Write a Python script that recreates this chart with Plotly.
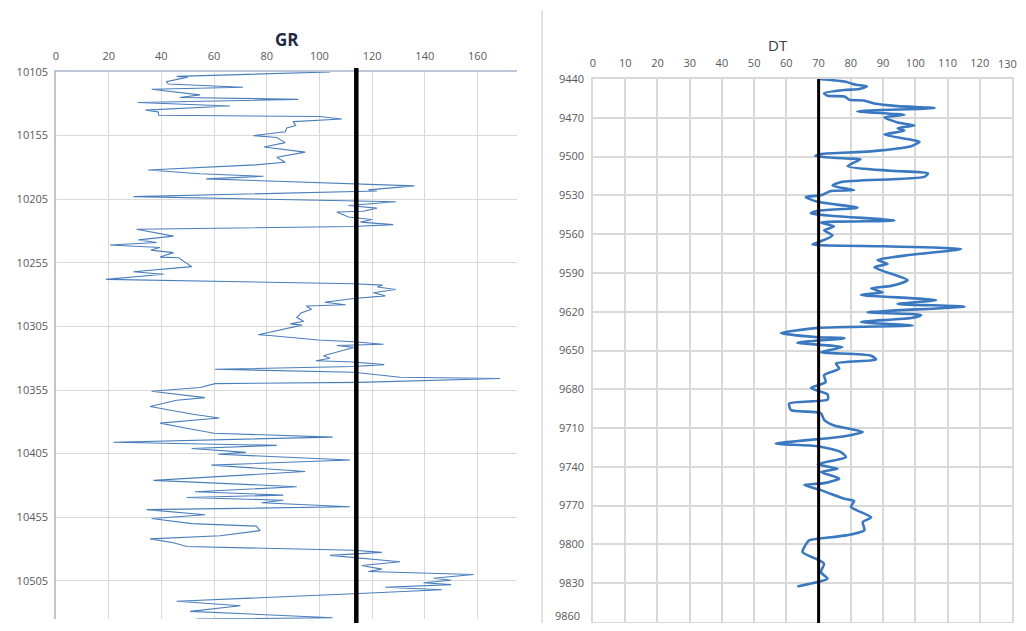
import plotly.graph_objects as go

# ---------------- GR log (left panel) ----------------
gr_depth = [10105, 10108.4, 10109, 10112.6, 10114.5, 10117, 10118.6, 10123, 10125, 10126.5,
            10129, 10131.7, 10135, 10136.5, 10139, 10140, 10142, 10144, 10147, 10149,
            10152, 10155, 10156.5, 10160.5, 10164, 10168, 10172, 10176, 10178, 10182,
            10185, 10187, 10189, 10193, 10194.5, 10197.7, 10198.5, 10203, 10206, 10207,
            10210, 10212, 10214.5, 10215, 10219, 10221, 10223, 10225, 10226.5, 10228.6,
            10234, 10237, 10239, 10241, 10243, 10245, 10247, 10250.5, 10251, 10258,
            10262, 10264, 10268, 10271.5, 10272.5, 10274, 10276, 10278.5, 10281, 10283,
            10286, 10288, 10289, 10291.5, 10294.5, 10298, 10301, 10303, 10304, 10311.5,
            10312, 10315.7, 10317, 10319, 10320, 10321.5, 10328, 10330, 10332, 10333,
            10335, 10336.5, 10338.7, 10341, 10345, 10346, 10349, 10350, 10353, 10356,
            10361, 10363, 10368, 10374, 10377, 10381, 10385, 10389, 10392, 10396,
            10398.5, 10401, 10404, 10405.5, 10410, 10414, 10419, 10426, 10431, 10435,
            10437.6, 10439.5, 10441.6, 10443.6, 10446.8, 10449, 10453, 10456, 10460, 10462,
            10465.5, 10469.5, 10472, 10475, 10478, 10481, 10482.6, 10485, 10490, 10493,
            10495.8, 10497.7, 10500, 10503, 10504.5, 10506.5, 10508, 10510, 10512, 10515,
            10521, 10524.6, 10529, 10534, 10535]
gr_value = [104, 45.8, 50, 42, 42.6, 71, 36.3, 54.7, 47, 92,
            31, 66, 34, 38.9, 38.9, 100, 108.5, 90, 91, 87.6,
            87, 75, 83.8, 87, 79, 94.6, 83.8, 87, 75.6, 35,
            54.7, 78.7, 57, 113, 136, 118.6, 121.8, 29.4, 113, 129,
            111, 121.8, 116.7, 106.6, 111, 120, 115.6, 128, 113, 30.6,
            44.6, 31.3, 38.2, 20.5, 39.5, 36, 44.6, 39.5, 46.5, 51.5,
            29.4, 40.8, 19, 113, 124, 122, 129, 120.5, 125, 113,
            102, 110, 95, 97, 93, 91.4, 94, 89, 93.4, 76.8,
            80, 99.6, 113, 124.3, 106.6, 113, 101.5, 104, 98.7, 113,
            124.6, 113, 60.4, 113, 130.6, 168.6, 115, 60.4, 54.7, 36.3,
            56.5, 45.8, 35.7, 52, 62, 39.5, 49.6, 60, 105, 21.8,
            83.8, 51.5, 72, 61.6, 111.6, 59, 94.6, 37, 91.4, 52.8,
            86.3, 49.6, 86.3, 78, 111.6, 34.4, 56.6, 36.3, 51.5, 76,
            77.5, 62.3, 35.7, 44.6, 49.6, 113, 123.7, 104, 130.6, 116,
            123.7, 118.6, 158.5, 143.3, 150, 139.5, 150, 125, 146.5, 115,
            45.8, 70, 50.9, 105, 53.4]

# ---------------- DT log (right panel) ----------------
dt_depth = [9440, 9442, 9444.4, 9445.7, 9447.8, 9448.5, 9451, 9453, 9453.5, 9456,
            9456.6, 9459, 9461, 9462.5, 9465, 9467.7, 9469.6, 9473.7, 9476, 9478,
            9480, 9483, 9487, 9488.5, 9492, 9496, 9498, 9499.6, 9501.5, 9502,
            9507.4, 9511, 9513, 9515.7, 9519.6, 9522.5, 9526, 9526.6, 9530, 9531.3,
            9535, 9539.6, 9542, 9544, 9549.4, 9551, 9554, 9557, 9561, 9565.5,
            9568, 9569.4, 9571.5, 9576, 9580, 9583, 9585.7, 9595.6, 9600, 9602,
            9605, 9607, 9611, 9614, 9616, 9620.5, 9622.5, 9624.7, 9628, 9630.7,
            9632.5, 9636.6, 9639.7, 9640.5, 9644, 9647.4, 9651.3, 9654, 9657, 9660,
            9664, 9669, 9674.5, 9679, 9684, 9688, 9691, 9696, 9698.5, 9703.6,
            9708, 9713, 9716.5, 9722, 9724, 9728.6, 9732.5, 9738, 9741.5, 9744,
            9749, 9752.6, 9754, 9758, 9764.7, 9766.5, 9771, 9779, 9782.7, 9789,
            9793, 9795.6, 9797, 9806, 9811, 9815, 9821.4, 9826.5, 9829, 9832.5]
dt_value = [70.2, 78, 81.6, 85, 82.6, 78, 71.7, 72.8, 78, 79.5,
            84, 87.3, 94.5, 106, 82, 96.6, 90.4, 94.5, 99.7, 94.5,
            96.6, 90.4, 98.7, 101.3, 98.7, 86, 70.7, 69, 78.5, 83,
            79, 92.5, 103.9, 102.8, 77, 74.3, 81, 73.8, 70.7, 66,
            69.7, 82.1, 69.7, 67.6, 93.5, 70.7, 74.8, 71.7, 74.3, 70.7,
            68.1, 90.4, 114.2, 98.7, 88.3, 91.4, 87.3, 97.6, 92.5, 86.3,
            89.9, 83.1, 106.5, 94.5, 115.3, 85.2, 101.8, 99.2, 83.1, 99.2,
            69.7, 58.3, 69.7, 78, 63.4, 77.4, 70.7, 86.3, 87.8, 75.4,
            76.4, 71.7, 72.2, 67.6, 72.8, 72.8, 60.9, 61.4, 70.7, 71.7,
            74.8, 83.7, 77.5, 56.7, 69.7, 76.9, 78.5, 69.7, 75.9, 70.7,
            76.4, 71.7, 65.5, 70.7, 78, 81, 80, 86.3, 83.7, 84.2,
            78.5, 69.7, 67, 65, 69.1, 71.7, 70.7, 72.8, 69.7, 63.4]

GR_CUTOFF = 114
DT_CUTOFF = 70
gr_ticks = [0, 20, 40, 60, 80, 100, 120, 140, 160]
gr_depth_ticks = [10105, 10155, 10205, 10255, 10305, 10355, 10405, 10455, 10505]
dt_ticks = list(range(0, 131, 10))
dt_depth_ticks = list(range(9440, 9861, 30))

# page body has an 8px default margin; size the figure so it fits the window
OFF = 8
W, H = 1026 - 2 * OFF, 631 - 2 * OFF
FONT = "Open Sans"
GRID = "#d9d9d9"
TICKFONT = dict(family=FONT, size=11, color="#595959")

fig = go.Figure()
fig.add_trace(go.Scatter(x=gr_value, y=gr_depth, mode="lines",
                         line=dict(color="#4a7ebb", width=1.1),
                         xaxis="x", yaxis="y", showlegend=False))
fig.add_trace(go.Scatter(x=dt_value, y=dt_depth, mode="lines",
                         line=dict(color="#3a78c0", width=2.6, shape="spline", smoothing=0.6),
                         xaxis="x2", yaxis="y2", showlegend=False))

def px_x(p):
    return (p - OFF) / W

def px_y(p):
    return 1 - (p - OFF) / H

common = dict(automargin=False, zeroline=False, tickfont=TICKFONT,
              tickcolor="rgba(0,0,0,0)", ticks="outside", showgrid=True)

fig.update_layout(
    width=W, height=H,
    margin=dict(l=0, r=0, t=0, b=0),
    paper_bgcolor="white", plot_bgcolor="white",
    xaxis=dict(domain=[px_x(56), px_x(517)], range=[0, 175], side="top",
               tickvals=gr_ticks, gridcolor=GRID, gridwidth=1,
               showline=True, linecolor="#bcc6d6", linewidth=1.5,
               ticklen=6, anchor="y", **common),
    yaxis=dict(domain=[px_y(619), px_y(72)], range=[10535, 10105],
               tickvals=gr_depth_ticks, tickformat="d", gridcolor=GRID, gridwidth=1,
               showline=True, linecolor="#bcc6d6", linewidth=1.5,
               ticklen=4, anchor="x", **common),
    # last tick labels of the DT axes sit at the page edge; they are placed as annotations below
    xaxis2=dict(domain=[px_x(593), px_x(1012)], range=[0, 130], side="top",
                tickvals=dt_ticks[:-1], gridcolor=GRID, gridwidth=1.5,
                showline=True, mirror=True, linecolor=GRID, linewidth=1.5,
                ticklen=6, anchor="y2", **common),
    yaxis2=dict(domain=[px_y(622), px_y(79)], range=[9860, 9440],
                tickvals=dt_depth_ticks[:-1], tickformat="d", gridcolor=GRID, gridwidth=1.5,
                showline=True, mirror=True, linecolor=GRID, linewidth=1.5,
                ticklen=5, anchor="x2", **common),
    shapes=[
        dict(type="line", xref="x", yref="paper", x0=GR_CUTOFF, x1=GR_CUTOFF,
             y0=0, y1=px_y(68), line=dict(color="black", width=4.5)),
        dict(type="line", xref="x2", yref="paper", x0=DT_CUTOFF, x1=DT_CUTOFF,
             y0=0, y1=px_y(79), line=dict(color="black", width=3)),
        dict(type="line", xref="paper", yref="paper", x0=px_x(542), x1=px_x(542),
             y0=0, y1=px_y(10), line=dict(color="#d9d9d9", width=1.5)),
    ],
    annotations=[
        dict(text="<b>GR</b>", x=px_x(273), y=px_y(26), xref="paper", yref="paper",
             showarrow=False, font=dict(family=FONT, size=17, color="#1f2a44")),
        dict(text="DT", x=px_x(790), y=px_y(33), xref="paper", yref="paper",
             showarrow=False, font=dict(family=FONT, size=15, color="#404040")),
        dict(text=str(dt_ticks[-1]), x=1.0, xanchor="right", xref="paper",
             y=px_y(63), yanchor="middle", yref="paper", showarrow=False, font=TICKFONT,
             xshift=1),
        dict(text=str(dt_depth_ticks[-1]), x=px_x(582), xanchor="right", xref="paper",
             y=0, yanchor="bottom", yref="paper", showarrow=False, font=TICKFONT,
             yshift=-2),
    ],
)

fig.write_html("out.html")
